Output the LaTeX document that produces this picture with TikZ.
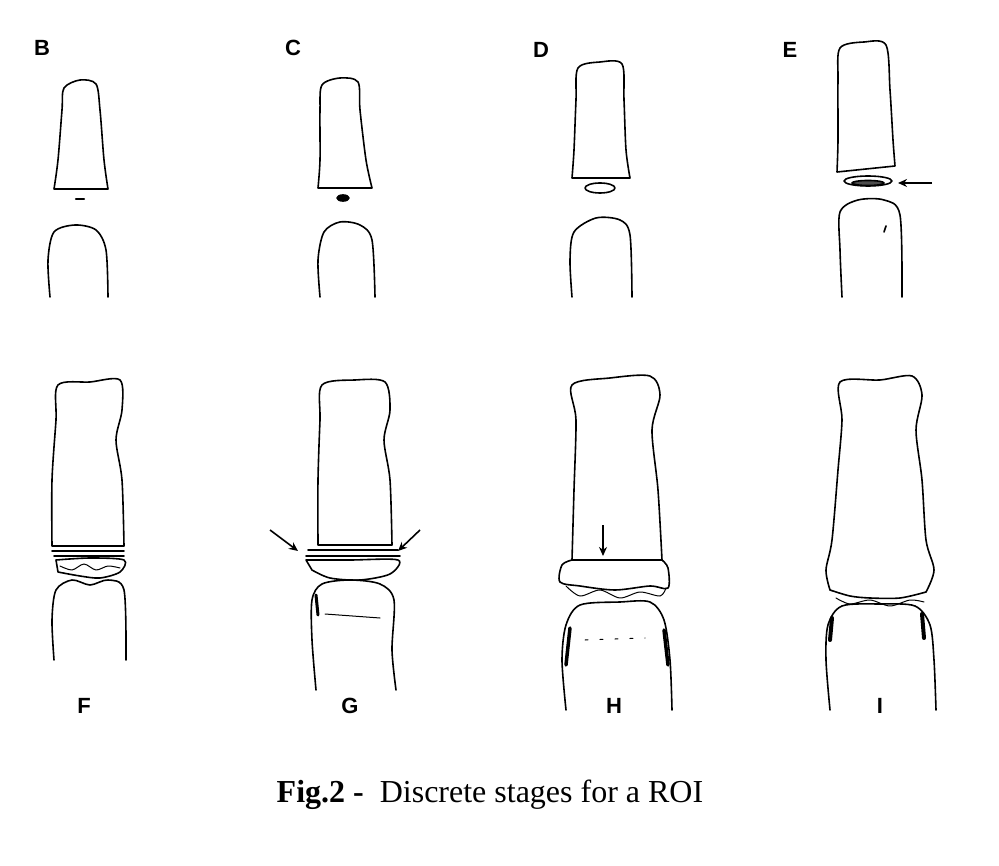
\documentclass[tikz,border=0pt]{standalone}
\usepackage{fontspec}
\setmainfont{Liberation Serif}
\setsansfont{Liberation Sans}
\usetikzlibrary{arrows.meta}
\begin{document}
\begin{tikzpicture}[x=1pt,y=-1pt,line width=1.6pt,
  bone/.style={draw=black,line join=round,line cap=round},
  lab/.style={font=\sffamily\bfseries\fontsize{22}{24}\selectfont,inner sep=0},
  arr/.style={-{Stealth[length=9pt,width=8pt]},line width=1.6pt}]
\useasboundingbox (0,0) rectangle (999,866);
% labels
\node[lab] (lB) at (42,48) {B};
\node[lab] (lC) at (293,48) {C};
\node[lab] (lD) at (541,50) {D};
\node[lab] (lE) at (790,50) {E};
\node[lab] (lF) at (84,706) {F};
\node[lab] (lG) at (350,706) {G};
\node[lab] (lH) at (614,706) {H};
\node[lab] (lI) at (880,706) {I};
\node[font=\fontsize{32}{36}\selectfont] (cap) at (490,795) {\textbf{Fig.2 -}\ \ Discrete stages for a ROI};
% ---- B
\draw[bone] plot[smooth] coordinates {(54,189)(58,160)(62,110)(64,88)(80,80)(96,84)(100,110)(104,160)(108,189)} -- (54,189);
\draw[bone,line width=2.4pt] (76,199) -- (84,199);
\draw[bone] plot[smooth] coordinates {(50,297)(48,260)(54,232)(75,225)(96,230)(106,250)(108,297)};
% ---- C
\draw[bone] plot[smooth] coordinates {(318,188)(320,160)(320,110)(322,85)(340,78)(358,82)(360,110)(366,160)(372,188)} -- (318,188);
\draw[bone,fill=black] (343,198) ellipse (6 and 3);
\draw[bone] plot[smooth] coordinates {(320,297)(318,260)(324,232)(340,222)(360,225)(372,240)(375,297)};
% ---- D
\draw[bone] plot[smooth] coordinates {(572,178)(574,150)(576,100)(578,68)(600,62)(622,64)(624,100)(626,150)(630,178)} -- (572,178);
\draw[bone] (600,188) ellipse (15 and 5);
\draw[bone] plot[smooth] coordinates {(572,297)(570,260)(574,232)(596,218)(620,220)(630,235)(632,297)};
% ---- E
\draw[bone] plot[smooth] coordinates {(837,172)(838,140)(838,80)(840,48)(864,42)(886,45)(890,90)(893,140)(895,166)} -- (837,172);
\draw[bone] (868,181) ellipse (24 and 5);
\draw[bone,fill=black!70] (868,183) ellipse (16 and 2.5);
\coordinate (eS) at (932,183); \coordinate (eT) at (898,183);
\draw[arr] (eS) -- (eT);
\draw[bone] plot[smooth] coordinates {(842,297)(840,250)(840,212)(858,200)(884,200)(900,215)(902,297)};
\draw[bone] (886,226) -- (884,232);
% ---- F
\draw[bone] plot[smooth] coordinates {(52,546)(52,480)(56,420)(58,385)(90,382)(120,380)(122,410)(116,440)(122,480)(124,546)} -- cycle;
\draw[bone] (52,551) -- (124,551);
\draw[bone] (54,556) -- (124,556);
\draw[bone] plot[smooth] coordinates {(56,560)(90,558)(124,560)(120,572)(100,578)(80,576)(58,572)} -- cycle;
\draw[bone,line width=1pt] plot[smooth] coordinates {(60,566)(72,570)(84,564)(96,570)(108,566)(120,568)};
\draw[bone] plot[smooth] coordinates {(54,660)(52,620)(56,590)(72,580)(90,585)(108,580)(124,590)(126,660)};
% ---- G
\draw[bone] plot[smooth] coordinates {(318,545)(318,480)(320,420)(322,385)(355,380)(385,382)(390,410)(384,440)(390,480)(392,545)} -- cycle;
\draw[bone] (308,550) -- (398,550);
\draw[bone] (306,556) -- (400,556);
\draw[bone] plot[smooth] coordinates {(306,560)(350,560)(398,560)(390,574)(360,580)(330,578)(312,570)} -- cycle;
\coordinate (gS1) at (270,530); \coordinate (gT1) at (298,551);
\coordinate (gS2) at (420,530); \coordinate (gT2) at (398,551);
\draw[arr] (gS1) -- (gT1);
\draw[arr] (gS2) -- (gT2);
\draw[bone] plot[smooth] coordinates {(316,690)(312,640)(312,600)(322,584)(350,580)(380,584)(394,600)(392,650)(396,690)};
\draw[bone,line width=3pt] (316,595) -- (318,615);
\draw[bone,line width=1pt] (325,614) -- (380,618);
% ---- H
\draw[bone] plot[smooth] coordinates {(572,560)(574,490)(576,420)(572,385)(610,378)(650,376)(660,395)(652,430)(658,490)(662,560)} -- cycle;
\draw[bone] plot[smooth] coordinates {(572,560)(562,565)(560,582)(580,586)(615,590)(650,586)(668,588)(668,568)(662,560)};
\draw[bone,line width=1pt] plot[smooth] coordinates {(566,586)(580,596)(600,590)(620,598)(640,592)(660,596)(666,588)};
\coordinate (hS) at (603,525); \coordinate (hT) at (603,556);
\draw[arr] (hS) -- (hT);
\draw[bone] plot[smooth] coordinates {(566,710)(562,660)(566,625)(580,605)(620,602)(650,602)(664,620)(670,660)(672,710)};
\draw[bone,line width=3.5pt] (570,628) -- (566,665);
\draw[bone,line width=3.5pt] (664,630) -- (668,665);
\draw[bone,line width=1pt,dash pattern=on 3pt off 12pt] (585,640) -- (645,638);
% ---- I
\draw[bone] plot[smooth] coordinates {(830,590)(826,570)(832,540)(838,470)(842,420)(840,382)(880,380)(912,376)(922,395)(916,430)(922,480)(926,540)(934,570)(926,592)} ;
\draw[bone] plot[smooth] coordinates {(830,590)(850,596)(870,598)(900,598)(926,592)};
\draw[bone,line width=1pt] plot[smooth] coordinates {(836,598)(850,604)(870,600)(890,606)(910,600)(924,602)};
\draw[bone] plot[smooth] coordinates {(830,710)(826,660)(828,625)(842,606)(880,604)(915,606)(930,625)(934,660)(936,710)};
\draw[bone,line width=4pt] (832,618) -- (830,640);
\draw[bone,line width=4pt] (922,614) -- (924,638);
\end{tikzpicture}
\end{document}
